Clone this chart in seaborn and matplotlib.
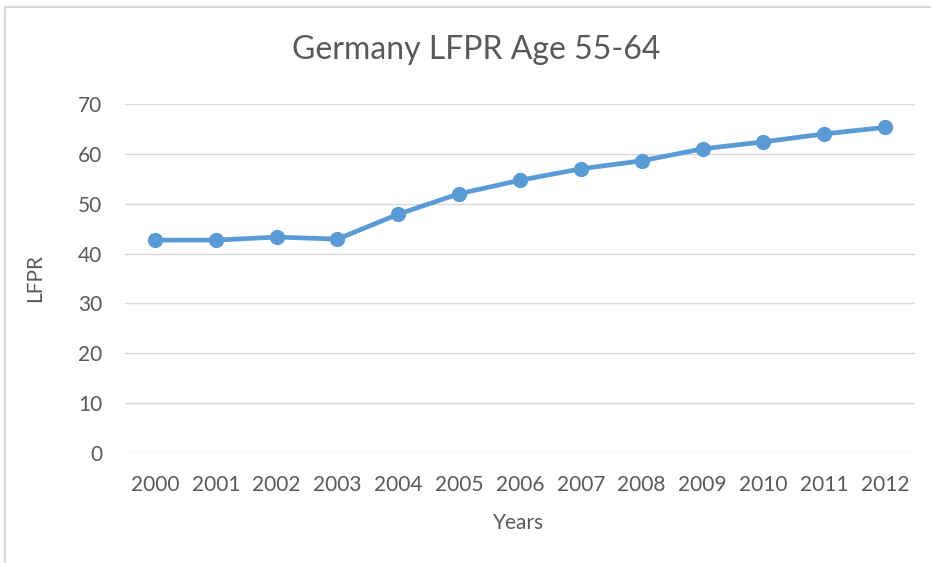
import numpy as np
import pandas as pd
import matplotlib
matplotlib.use('Agg')
import matplotlib.pyplot as plt
import seaborn as sns
from matplotlib.patches import Rectangle

years = [2000, 2001, 2002, 2003, 2004, 2005, 2006, 2007, 2008, 2009, 2010, 2011, 2012]
lfpr = [42.7, 42.7, 43.3, 42.9, 47.9, 52.0, 54.7, 57.0, 58.6, 61.0, 62.4, 64.0, 65.3]
title = "Germany LFPR Age 55-64"

sns.set_theme(style="white")
plt.rcParams['font.family'] = ['Lato', 'DejaVu Sans']

df = pd.DataFrame({"year": years, "lfpr": lfpr})

fig = plt.figure(figsize=(9.31, 5.63), dpi=100)
ax = fig.add_axes([0.1338, 0.1954, 0.8495, 0.6199])

sns.lineplot(data=df, x="year", y="lfpr", ax=ax, color="#5B9BD5",
             linewidth=3.4, marker="o", markersize=11, markeredgewidth=0)

ax.set_xlim(1999.5, 2012.5)
ax.set_ylim(0, 70)
ax.set_yticks(np.arange(0, 71, 10))
ax.set_xticks(years)
ax.set_xticklabels([str(y) for y in years])
ax.grid(axis="y", color="#D9D9D9", linewidth=1)
ax.set_axisbelow(True)
for s in ax.spines.values():
    s.set_visible(False)
ax.tick_params(axis="both", length=0, labelsize=15, labelcolor="#595959")
ax.tick_params(axis="y", pad=16)
ax.tick_params(axis="x", pad=16)
ax.set_xlabel("")
ax.set_ylabel("")

fig.text(476 / 931, 1 - 50 / 563, title, ha="center", va="center",
         fontsize=23, color="#595959")
fig.text(35 / 931, 1 - 278 / 563, "LFPR", ha="center", va="center",
         rotation=90, fontsize=15, color="#595959")
fig.text(519 / 931, 1 - 523 / 563, "Years", ha="center", va="center",
         fontsize=15, color="#595959")

# chart frame
fig.patches.append(Rectangle((5 / 931, -0.01), 1.0, 1 - 7 / 563 + 0.01,
                             transform=fig.transFigure, fill=False,
                             edgecolor="#D9D9D9", linewidth=1.5))

fig.savefig("out.png", dpi=100)
